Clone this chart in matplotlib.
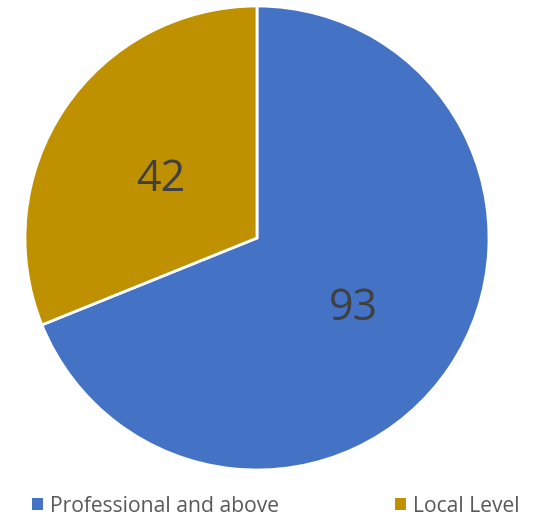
import matplotlib
matplotlib.use("Agg")
import matplotlib.pyplot as plt
from matplotlib.patches import Patch

categories = ["Professional and above", "Local Level"]
values = [93, 42]
colors = ["#4472C4", "#BF9000"]

W, H = 536, 519
fig = plt.figure(figsize=(W / 100, H / 100), dpi=100)
plt.rcParams['font.family'] = ['Open Sans', 'DejaVu Sans']

cx, cy, r = 257, 238, 232
ax = fig.add_axes([(cx - r) / W, (H - cy - r) / H, 2 * r / W, 2 * r / H])
wedges, texts, autotexts = ax.pie(
    values, colors=colors, startangle=90, counterclock=False,
    autopct=lambda p: f"{round(p * sum(values) / 100):d}", pctdistance=0.5,
    wedgeprops=dict(edgecolor="white", linewidth=2),
    textprops=dict(fontsize=31, color="#404040"),
)
for t in autotexts:
    x, y = t.get_position()
    t.set_position((x, y - 0.027))
ax.set_xlim(-1, 1)
ax.set_ylim(-1, 1)
ax.set_aspect("equal")

handles = [Patch(facecolor=c, edgecolor="none") for c in colors]
fig.legend(handles, categories, loc="center left", bbox_to_anchor=(32 / W, 1 - 506 / H),
           ncol=2, frameon=False, fontsize=15.2, labelcolor="#595959",
           borderpad=0, borderaxespad=0,
           handlelength=0.5, handleheight=0.5, handletextpad=0.35, columnspacing=5.5)

fig.savefig("out.png", dpi=100)
